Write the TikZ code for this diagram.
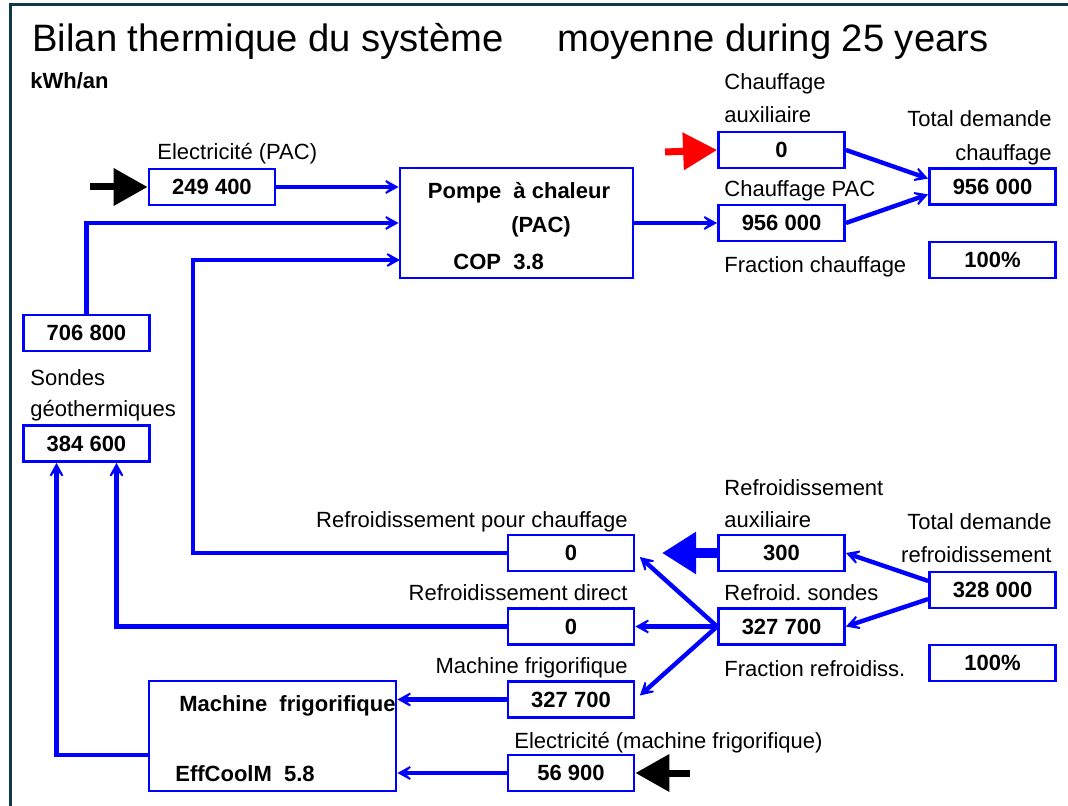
\documentclass[tikz,border=0pt]{standalone}
\usepackage{fontspec}
\setmainfont{Liberation Sans}
\usepackage{tikz}
\usetikzlibrary{calc,positioning,arrows.meta}
\frenchspacing

\definecolor{framecol}{RGB}{16,56,72}
\tikzset{
  valbox/.style={draw=blue, line width=1.4pt, font=\fontsize{11}{13}\selectfont\bfseries,
    minimum width=63pt, minimum height=18pt, inner sep=0pt},
  bigbox/.style={draw=blue, line width=1.4pt, minimum height=55pt, inner sep=0pt},
  lbl/.style={font=\fontsize{11}{13}\selectfont, inner sep=0pt},
  blbl/.style={font=\fontsize{11}{13}\selectfont\bfseries, inner sep=0pt},
  flow/.style={draw=blue, line width=2.2pt, -{Stealth[length=10pt,width=11pt,inset=6.5pt]}},
  bigarrow/.style={line width=3.5pt, -{Triangle[length=17pt,width=18pt]}}
}

\begin{document}
\begin{tikzpicture}[x=0.5pt, y=-0.5pt]
        \useasboundingbox (0,0) rectangle (1068,806);
        % frame
        \draw[framecol, line width=1.5pt] (10,806) -- (10,5) -- (1070,5);

        % title
        \node[anchor=base west, inner sep=0pt, font=\fontsize{19.1}{22}\selectfont] (title1) at (32,52) {Bilan thermique du système};
        \node[anchor=base west, inner sep=0pt, font=\fontsize{19.1}{22}\selectfont] (title2) at (557,52) {moyenne during 25 years};
        \node[blbl, anchor=base west] (unit) at (30,89) {kWh/an};

        % heat pump side
        \node[valbox] (e249) at (212,187) {249 400};
        \node[bigbox, minimum width=116.5pt] (pac) at (516.5,223) {};
        \node[valbox] (s706) at (86.5,333) {706 800};
        \node[valbox] (s384) at (86.5,443.5) {384 600};
        \node[valbox] (caux) at (781.5,150) {0};
        \node[valbox] (cpac) at (781.5,223) {956 000};
        \node[valbox] (tch) at (992.5,186.5) {956 000};
        \node[valbox] (fch) at (992.5,260) {100\%};

        % cooling side
        \node[valbox] (rpc) at (571,553) {0};
        \node[valbox] (rd) at (571,626.5) {0};
        \node[valbox] (mf) at (571,699.5) {327 700};
        \node[valbox] (el) at (571,773) {56 900};
        \node[valbox] (raux) at (781.5,553) {300};
        \node[valbox] (rs) at (781.5,626.5) {327 700};
        \node[valbox] (tr) at (992.5,590) {328 000};
        \node[valbox] (fr) at (992.5,663) {100\%};
        \node[bigbox, minimum width=123.5pt] (mfbox) at (272.5,736) {};

        % text inside the big boxes
        \node[blbl, anchor=base] (pact1) at (519,199) {Pompe~ à chaleur};
        \node[blbl, anchor=base] (pact2) at (541,233) {(PAC)};
        \node[blbl, anchor=base west] (pact3) at (453,270) {COP~ 3.8};
        \node[blbl, anchor=base east] (mft1) at (396,711) {Machine~ frigorifique};
        \node[blbl, anchor=base west] (mft2) at (175,781) {EffCoolM~ 5.8};

        % labels
        \node[lbl, anchor=base west] (l1) at (157,160) {Electricité (PAC)};
        \node[lbl, anchor=base west] (l2) at (724,90) {Chauffage};
        \node[lbl, anchor=base west] (l3) at (724,123) {auxiliaire};
        \node[lbl, anchor=base east] (l4) at (1052,127) {Total demande};
        \node[lbl, anchor=base east] (l5) at (1052,161) {chauffage};
        \node[lbl, anchor=base west] (l6) at (724,197) {Chauffage PAC};
        \node[lbl, anchor=base west] (l7) at (724,273) {Fraction chauffage};
        \node[lbl, anchor=base west] (l8) at (30,386) {Sondes};
        \node[lbl, anchor=base west] (l9) at (30,416) {géothermiques};
        \node[lbl, anchor=base east] (l10) at (628,527) {Refroidissement pour chauffage};
        \node[lbl, anchor=base east] (l11) at (628,600) {Refroidissement direct};
        \node[lbl, anchor=base east] (l12) at (628,673) {Machine frigorifique};
        \node[lbl, anchor=base west] (l13) at (514,748) {Electricité (machine frigorifique)};
        \node[lbl, anchor=base west] (l14) at (724,495) {Refroidissement};
        \node[lbl, anchor=base west] (l15) at (724,527) {auxiliaire};
        \node[lbl, anchor=base east] (l16) at (1052,529) {Total demande};
        \node[lbl, anchor=base east] (l17) at (1052,562) {refroidissement};
        \node[lbl, anchor=base west] (l18) at (724,600) {Refroid. sondes};
        \node[lbl, anchor=base west] (l19) at (724,676) {Fraction refroidiss.};

        % free ends of the big arrows
        \coordinate (elin) at (90,187);
        \coordinate (auxin) at (665,152);
        \coordinate (elin2) at (690,773);
        \coordinate (rauxout) at (662,553);

        % flows into the heat pump
        \draw[flow] (e249.east) -- (e249.east -| pac.west);
        \draw[flow] (s706.north) |- (pac.west);
        \draw[flow] (rpc.west) -| (193,260) -- (400,260);
        \draw[flow] (pac.east) -- (cpac.west);
        \draw[flow] (caux.east) -- (tch.173);
        \draw[flow] (cpac.east) -- (tch.187);

        % flows of the cooling side
        \draw[flow] (tr.172) -- (raux.east);
        \draw[flow] (tr.188) -- (rs.east);
        \draw[flow, shorten >=3pt] (rs.west) -- (rpc.east);
        \draw[flow] (rs.west) -- (rd.east);
        \draw[flow, shorten >=3pt] (rs.west) -- (mf.east);
        \draw[flow] (mf.west) -- (mf.west -| mfbox.east);
        \draw[flow] (el.west) -- (el.west -| mfbox.east);
        \draw[flow] (rd.west) -| ([xshift=15pt]s384.south);
        \draw[flow] ([yshift=-9.5pt]mfbox.west) -| ([xshift=-15pt]s384.south);

        % big arrows
        \draw[bigarrow, black] (elin) -- (e249.west);
        \draw[bigarrow, red] (auxin) -- (caux.west);
        \draw[bigarrow, black] (elin2) -- (el.east);
        \draw[bigarrow, blue, line width=5pt, -{Triangle[length=17pt,width=20pt]}] (raux.west) -- (rauxout);
\end{tikzpicture}
\end{document}
